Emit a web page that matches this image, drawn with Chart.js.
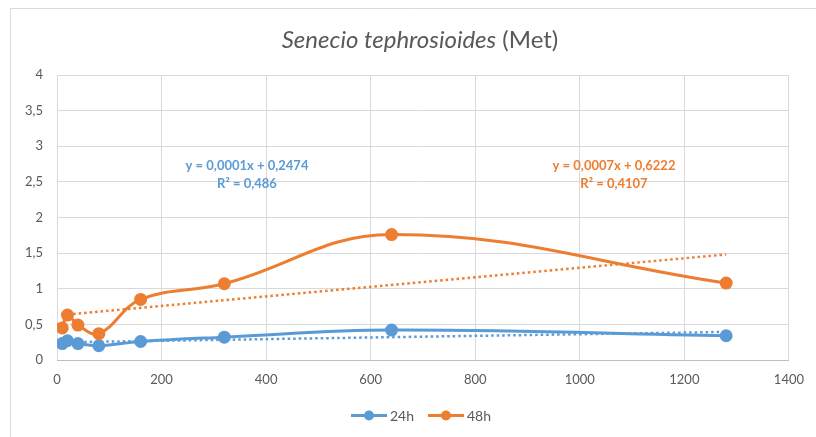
<!DOCTYPE html>
<html>
<head>
<meta charset="utf-8">
<script src="https://cdn.jsdelivr.net/npm/chart.js@4"></script>
<style>
  html, body { margin: 0; padding: 0; background: #fff; }
  #wrap { width: 816px; height: 437px; position: relative; }
</style>
</head>
<body>
<div id="wrap"><canvas id="grafico"></canvas></div>
<script>
// Concentrações (eixo x) e absorbâncias
const concentracoes = [10, 20, 40, 80, 160, 320, 640, 1280];
const valores24h = [0.23, 0.27, 0.23, 0.20, 0.26, 0.32, 0.42, 0.34];
const valores48h = [0.45, 0.63, 0.49, 0.37, 0.85, 1.07, 1.76, 1.08];
const nomesSeries = ['24h', '48h'];
const equacoes = [['y = 0,0001x + 0,2474', 'R² = 0,486'], ['y = 0,0007x + 0,6222', 'R² = 0,4107']];

const AZUL = '#5B9BD5';
const LARANJA = '#ED7D31';
const FONTE = 'Lato, "Open Sans", sans-serif';

// Linha de tendência por mínimos quadrados
function tendencia(xs, ys) {
    const n = xs.length;
    const mx = xs.reduce((a, b) => a + b, 0) / n;
    const my = ys.reduce((a, b) => a + b, 0) / n;
    let sxy = 0, sxx = 0;
    for (let i = 0; i < n; i++) {
        sxy += (xs[i] - mx) * (ys[i] - my);
        sxx += (xs[i] - mx) ** 2;
    }
    const a = sxy / sxx;
    const b = my - a * mx;
    const x0 = xs[0], x1 = xs[n - 1];
    return [{ x: x0, y: a * x0 + b }, { x: x1, y: a * x1 + b }];
}

const pontos = (ys) => concentracoes.map((x, i) => ({ x: x, y: ys[i] }));

// Título, legenda, equações e borda desenhados à mão
const extras = {
    id: 'extras',
    afterDraw(chart) {
        const ctx = chart.ctx;
        ctx.save();
        // título com parte em itálico
        ctx.textBaseline = 'middle';
        ctx.fillStyle = '#595959';
        const parte1 = 'Senecio tephrosioides';
        const parte2 = ' (Met)';
        ctx.font = 'italic 24px ' + FONTE;
        const w1 = ctx.measureText(parte1).width;
        ctx.font = '24px ' + FONTE;
        const w2 = ctx.measureText(parte2).width;
        let x = 420 - (w1 + w2) / 2;
        ctx.textAlign = 'left';
        ctx.font = 'italic 24px ' + FONTE;
        ctx.fillText(parte1, x, 40);
        ctx.font = '24px ' + FONTE;
        ctx.fillText(parte2, x + w1, 40);

        // equações das tendências
        ctx.font = 'bold 13px ' + FONTE;
        ctx.textAlign = 'center';
        const posicoes = [[247, AZUL], [614, LARANJA]];
        posicoes.forEach(([cx, cor], i) => {
            ctx.fillStyle = cor;
            ctx.fillText(equacoes[i][0], cx, 166);
            ctx.fillText(equacoes[i][1], cx, 184);
        });

        // legenda
        const legenda = [[351, 387, 369, 390, AZUL], [428, 464, 446, 467, LARANJA]];
        ctx.font = '14px ' + FONTE;
        ctx.textAlign = 'left';
        legenda.forEach(([l0, l1, pc, tx, cor], i) => {
            ctx.strokeStyle = cor;
            ctx.lineWidth = 3;
            ctx.beginPath();
            ctx.moveTo(l0, 415.5);
            ctx.lineTo(l1, 415.5);
            ctx.stroke();
            ctx.fillStyle = cor;
            ctx.beginPath();
            ctx.arc(pc, 415.5, 5, 0, Math.PI * 2);
            ctx.fill();
            ctx.fillStyle = '#595959';
            ctx.fillText(nomesSeries[i], tx, 416);
        });

        // borda do gráfico (só esquerda e topo aparecem)
        ctx.strokeStyle = '#d9d9d9';
        ctx.lineWidth = 1;
        ctx.beginPath();
        ctx.moveTo(10.5, 437);
        ctx.lineTo(10.5, 8.5);
        ctx.lineTo(816, 8.5);
        ctx.stroke();
        ctx.restore();
    }
};

const ctx = document.getElementById('grafico').getContext('2d');
new Chart(ctx, {
    type: 'scatter',
    data: {
        datasets: [
            {
                label: 'tend 24h',
                data: tendencia(concentracoes, valores24h),
                showLine: true,
                borderColor: AZUL,
                borderWidth: 2.5,
                borderDash: [2.5, 3],
                pointRadius: 0,
                order: 3
            },
            {
                label: 'tend 48h',
                data: tendencia(concentracoes, valores48h),
                showLine: true,
                borderColor: LARANJA,
                borderWidth: 2.5,
                borderDash: [2.5, 3],
                pointRadius: 0,
                order: 3
            },
            {
                label: nomesSeries[0],
                data: pontos(valores24h),
                showLine: true,
                tension: 0.4,
                borderColor: AZUL,
                backgroundColor: AZUL,
                borderWidth: 3,
                pointRadius: 5,
                order: 2
            },
            {
                label: nomesSeries[1],
                data: pontos(valores48h),
                showLine: true,
                tension: 0.4,
                borderColor: LARANJA,
                backgroundColor: LARANJA,
                borderWidth: 3,
                pointRadius: 5,
                order: 1
            }
        ]
    },
    options: {
        responsive: true,
        maintainAspectRatio: false,
        animation: false,
        layout: { padding: { left: 11, right: 25, top: 75, bottom: 47 } },
        plugins: {
            legend: { display: false },
            title: { display: false },
            tooltip: { enabled: false }
        },
        scales: {
            x: {
                type: 'linear',
                min: 0,
                max: 1400,
                ticks: {
                    stepSize: 200,
                    color: '#595959',
                    font: { family: FONTE, size: 13 },
                    maxRotation: 0,
                    padding: 12,
                    callback: (v) => String(v)
                },
                grid: { color: '#d9d9d9', drawTicks: false },
                border: { color: '#bfbfbf' },
                afterFit: (scale) => { scale.height = 30; }
            },
            y: {
                min: 0,
                max: 4,
                ticks: {
                    stepSize: 0.5,
                    color: '#595959',
                    font: { family: FONTE, size: 13 },
                    padding: 14,
                    callback: (v) => String(v).replace('.', ',')
                },
                grid: { color: '#d9d9d9', drawTicks: false },
                border: { display: false },
                afterFit: (scale) => { scale.width = 46; }
            }
        }
    },
    plugins: [extras]
});
</script>
</body>
</html>
